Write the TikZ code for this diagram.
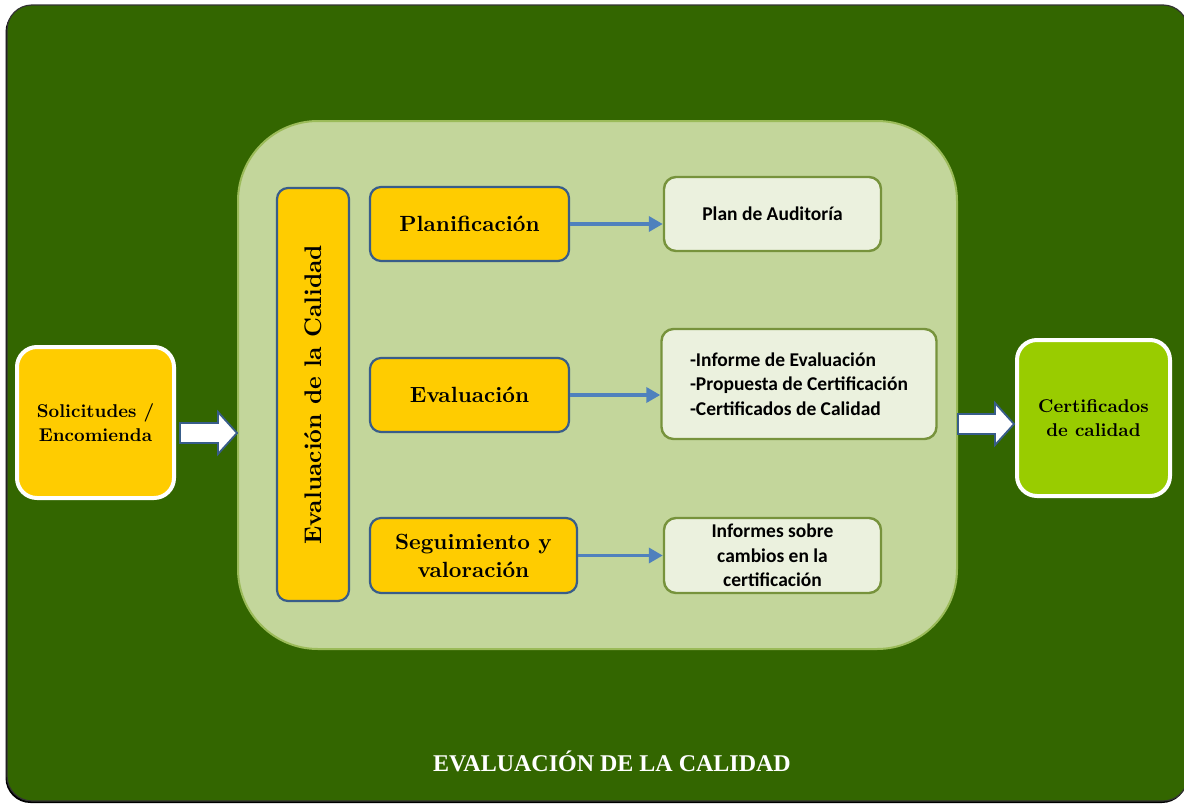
\documentclass[tikz,border=0pt]{standalone}
\usepackage{fontspec}
\setmainfont{lmroman10-regular}[Extension=.otf, BoldFont=lmroman10-bold,
  ItalicFont=lmroman10-italic, BoldItalicFont=lmroman10-bolditalic]
\newfontfamily\calibri{Carlito}
\newfontfamily\titlefont{Liberation Serif}
\usetikzlibrary{positioning,arrows.meta,calc}
\definecolor{evdark}{RGB}{51, 102, 0}
\definecolor{evframe}{RGB}{195, 214, 155}
\definecolor{evframedraw}{RGB}{155, 187, 89}
\definecolor{evgold}{RGB}{255, 204, 0}
\definecolor{evblue}{RGB}{56, 93, 138}
\definecolor{evflow}{RGB}{79, 129, 189}
\definecolor{evresfill}{RGB}{235, 241, 222}
\definecolor{evresdraw}{RGB}{119, 147, 60}
\definecolor{evlime}{RGB}{153, 204, 0}

\begin{document}
\begin{tikzpicture}[x=1pt, y=-1pt,
    phase/.style={draw=evblue, line width=2.2pt, fill=evgold,
                  rounded corners=11pt, inner sep=0pt, align=center,
                  font=\fontsize{22}{28}\selectfont\bfseries},
    result/.style={draw=evresdraw, line width=2.4pt, fill=evresfill,
                   rounded corners=12pt, inner sep=0pt,
                   font=\calibri\bfseries\fontsize{19.5}{24.5}\selectfont},
    endbox/.style={draw=white, line width=4pt, rounded corners=20pt,
                   inner sep=0pt, align=center,
                   font=\fontsize{18.5}{24}\selectfont\bfseries},
    flow/.style={draw=evflow, line width=3.6pt,
                 -{Triangle[length=14pt, width=15pt]}},
    fatarrow/.style={draw=evblue, line width=1.8pt, fill=white,
                     line join=miter},
]

% ================================================================
% PAGE AND DARK GREEN PANEL
% ================================================================
\useasboundingbox (0,0) rectangle (1184,809);
\fill[white] (0,0) rectangle (1184,809);
\fill[black, rounded corners=25pt] (5.5,7) rectangle (1187,803);
\draw[black!80, line width=1.2pt, fill=evdark, rounded corners=25pt]
  (7,5) rectangle (1188,801);

% ================================================================
% LIGHT GREEN FRAME WITH THE PHASES
% ================================================================
\node[draw=evframedraw, line width=2pt, fill=evframe, rounded corners=80pt,
      minimum width=719, minimum height=528] (frame) at (597.5,385) {};

% vertical bar
\node[phase, rotate=90, minimum width=413, minimum height=72,
      font=\fontsize{24}{28}\selectfont\bfseries]
  (vbox) at (313,394.5) {Evaluación de la Calidad};

% phases
\node[phase, minimum width=199, minimum height=74]
  (plan) at (469.5,224) {Planificación};
\node[phase, minimum width=199, minimum height=74]
  (eval) at (469.5,395) {Evaluación};
\node[phase, minimum width=207, minimum height=75]
  (segu) at (473.5,555.5) {Seguimiento y\\valoración};

% outputs of each phase
\node[result, minimum width=217, minimum height=74]
  (pa) at (772.5,214) {Plan de Auditoría};
\node[result, minimum width=275, minimum height=110, align=left]
  (inf) at (799,384)
  {-Informe de Evaluación\\-Propuesta de Certificación\\-Certificados de Calidad};
\node[result, minimum width=217, minimum height=75, align=center]
  (ics) at (772.5,555.5) {Informes sobre\\cambios en la\\certificación};

\draw[flow] (plan.east) -- (pa.west |- plan.east);
\draw[flow] (eval.east) -- (inf.west |- eval.east);
\draw[flow] (segu.east) -- (ics.west |- segu.east);

% ================================================================
% INPUT AND FINAL OUTPUT
% ================================================================
\node[endbox, fill=evgold, minimum width=157, minimum height=151]
  (sol) at (95.5,422.5) {Solicitudes /\\Encomienda};
\node[endbox, fill=evlime, minimum width=153, minimum height=156]
  (cert) at (1093.5,418) {Certificados\\de calidad};

% white block arrows
\coordinate (inA) at ($(sol.east)+(4,10.5)$);
\coordinate (inB) at (frame.west |- inA);
\coordinate (outB) at ($(cert.west)+(-1,6)$);
\coordinate (outA) at (frame.east |- outB);

\draw[fatarrow] let \p1=(inA), \p2=(inB) in
  (\x1,\y1+10pt) -- (\x2-19pt,\y1+10pt) -- (\x2-19pt,\y1+21pt) -- (\x2,\y1)
  -- (\x2-19pt,\y1-21pt) -- (\x2-19pt,\y1-10pt) -- (\x1,\y1-10pt) -- cycle;
\draw[fatarrow] let \p1=(outA), \p2=(outB) in
  (\x1,\y1+10pt) -- (\x2-19pt,\y1+10pt) -- (\x2-19pt,\y1+21pt) -- (\x2,\y1)
  -- (\x2-19pt,\y1-21pt) -- (\x2-19pt,\y1-10pt) -- (\x1,\y1-10pt) -- cycle;

% ================================================================
% TITLE
% ================================================================
\node[text=white, font=\titlefont\bfseries\fontsize{24}{28}\selectfont]
  (title) at (612,761) {EVALUACIÓN DE LA CALIDAD};

\end{tikzpicture}
\end{document}
